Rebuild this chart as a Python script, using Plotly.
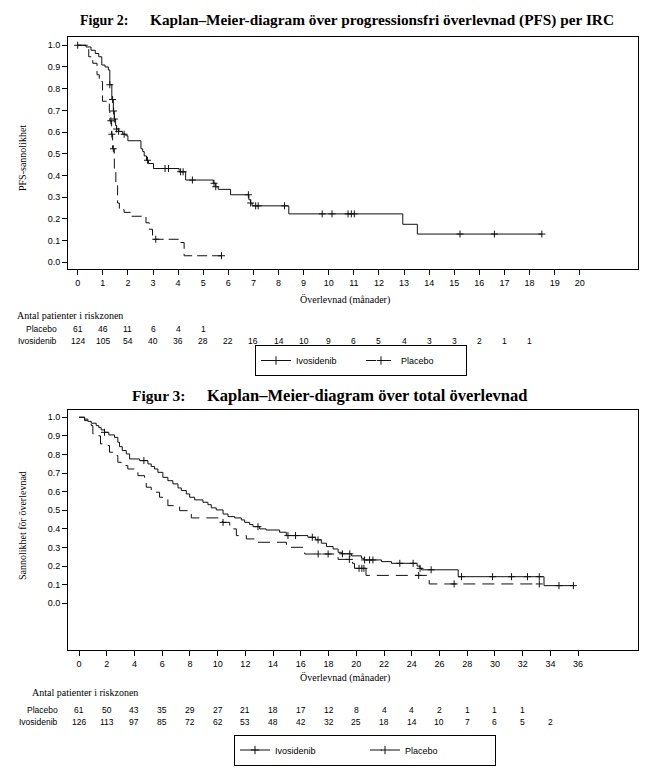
import plotly.graph_objects as go

# ---------------- DATA ----------------
# Figure 2: PFS per IRC (months, survival probability)
pfs_ivo_t = [0, 0.33, 0.53, 0.7, 0.84, 0.96, 1.09, 1.22, 1.28, 1.36, 1.42, 1.46, 1.51, 1.55, 1.63, 1.79,
             1.92, 2.0, 2.52, 2.59, 2.65, 2.74, 2.82, 3.02, 4.04, 4.3, 5.4, 5.5, 5.6, 6.09, 6.82, 6.89,
             6.95, 8.41, 12.95, 13.53, 18.49]
pfs_ivo_s = [1.0, 0.992, 0.977, 0.962, 0.947, 0.909, 0.9, 0.886, 0.818, 0.75, 0.697, 0.66, 0.63, 0.614,
             0.603, 0.59, 0.583, 0.56, 0.523, 0.51, 0.49, 0.47, 0.455, 0.432, 0.417, 0.379, 0.364, 0.348,
             0.336, 0.311, 0.288, 0.273, 0.26, 0.223, 0.175, 0.13, 0.13]
pfs_ivo_cens = [0, 1.28, 1.39, 1.43, 1.46, 1.55, 1.63, 1.85, 2.78, 3.48, 3.62, 4.1, 4.2, 4.57, 5.43, 5.5,
                6.8, 6.89, 7.09, 7.19, 8.24, 9.74, 10.13, 10.77, 10.9, 11.02, 15.23, 16.6, 18.49]

pfs_pla_t = [0, 0.44, 0.6, 0.77, 0.86, 0.99, 1.26, 1.28, 1.35, 1.39, 1.46, 1.52, 1.59, 1.66, 1.85, 2.12,
             2.72, 2.85, 2.98, 4.1, 4.24, 5.73]
pfs_pla_s = [1.0, 0.947, 0.917, 0.864, 0.833, 0.742, 0.697, 0.652, 0.59, 0.523, 0.424, 0.364, 0.273,
             0.242, 0.23, 0.212, 0.182, 0.152, 0.106, 0.091, 0.03, 0.03]
pfs_pla_cens = [1.32, 1.36, 1.42, 3.11, 5.73]

pfs_months = list(range(0, 21))
pfs_risk_placebo = [61, 46, 11, 6, 4, 1]
pfs_risk_ivo = [124, 105, 54, 40, 36, 28, 22, 16, 14, 10, 9, 6, 5, 4, 3, 3, 2, 1, 1]

# Figure 3: overall survival
os_ivo_t = [0, 0.4, 0.64, 0.88, 1.24, 1.43, 1.6, 1.84, 2.15, 2.56, 2.8, 2.92, 3.12, 3.41, 3.65, 4.37,
            4.97, 5.21, 5.45, 5.69, 6.05, 6.41, 6.77, 7.14, 7.38, 7.74, 7.98, 8.34, 8.94, 9.3, 9.54, 9.9,
            10.39, 10.75, 11.23, 11.71, 11.95, 12.31, 12.55, 13.03, 13.5, 14.47, 14.95, 16.51, 17.07,
            17.48, 17.85, 18.33, 18.69, 18.93, 19.65, 20.37, 20.55, 21.82, 22.54, 24.39, 24.6, 24.7,
            27.35, 33.54, 35.66]
os_ivo_s = [1.0, 0.99, 0.978, 0.968, 0.955, 0.944, 0.932, 0.919, 0.905, 0.892, 0.866, 0.842, 0.821,
            0.803, 0.776, 0.767, 0.749, 0.735, 0.722, 0.704, 0.677, 0.659, 0.642, 0.62, 0.606, 0.588,
            0.57, 0.556, 0.543, 0.53, 0.513, 0.502, 0.48, 0.466, 0.459, 0.448, 0.435, 0.423, 0.412, 0.4,
            0.394, 0.382, 0.364, 0.355, 0.341, 0.323, 0.305, 0.292, 0.274, 0.266, 0.255, 0.242, 0.233,
            0.224, 0.215, 0.2, 0.188, 0.18, 0.143, 0.095, 0.095]
os_ivo_cens = [1.84, 4.68, 12.91, 15.07, 15.62, 16.83, 17.24, 19.0, 19.53, 20.6, 20.96, 21.2, 23.14,
               24.1, 24.6, 25.4, 27.59, 29.83, 31.2, 32.35, 33.2, 34.62, 35.66]

os_pla_t = [0, 0.4, 0.71, 0.88, 1.0, 1.24, 1.55, 1.84, 2.2, 2.44, 2.8, 3.04, 3.52, 4.25, 4.73, 4.85,
            5.21, 5.81, 6.41, 7.26, 8.1, 10.34, 10.87, 11.35, 12.07, 12.79, 14.96, 16.28, 18.69, 19.72,
            19.87, 20.7, 25.26, 33.2]
os_pla_s = [1.0, 0.982, 0.968, 0.955, 0.91, 0.9, 0.857, 0.848, 0.812, 0.794, 0.758, 0.74, 0.722, 0.686,
            0.66, 0.624, 0.597, 0.57, 0.525, 0.498, 0.459, 0.435, 0.4, 0.364, 0.346, 0.328, 0.301, 0.265,
            0.236, 0.215, 0.188, 0.15, 0.104, 0.104]
os_pla_cens = [10.39, 17.25, 17.97, 19.5, 20.2, 20.4, 20.55, 24.5, 27.06, 33.2]

os_months = list(range(0, 37, 2))
os_risk_placebo = [61, 50, 43, 35, 29, 27, 21, 18, 17, 12, 8, 4, 4, 2, 1, 1, 1]
os_risk_ivo = [126, 113, 97, 85, 72, 62, 53, 48, 42, 32, 25, 18, 14, 10, 7, 6, 5, 2]

y_ticks = [i / 10 for i in range(11)]

# ---------------- HELPERS ----------------
W, H = 652, 774
SANS = "Liberation Sans, Arial, sans-serif"
SERIF = "Liberation Serif, Times New Roman, serif"


def px(x):
    return x / W


def py(y):
    return 1 - y / H


def step_at(ts, ss, t):
    v = ss[0]
    for ti, si in zip(ts, ss):
        if ti <= t:
            v = si
        else:
            break
    return v


fig = go.Figure()

LINE_COL = "#111111"
MARK = dict(symbol="cross-thin", size=5, line=dict(color=LINE_COL, width=1))


def add_km(t, s, cens, xa, ya, name, dash, legend):
    fig.add_trace(go.Scatter(x=t, y=s, mode="lines", line=dict(shape="hv", color=LINE_COL, width=1, dash=dash),
                             xaxis=xa, yaxis=ya, showlegend=False, hoverinfo="skip"))
    fig.add_trace(go.Scatter(x=cens, y=[step_at(t, s, c) for c in cens], mode="markers",
                             marker=MARK, xaxis=xa, yaxis=ya, showlegend=False, hoverinfo="skip"))
    # legend entry
    fig.add_trace(go.Scatter(x=[None], y=[None], mode="lines+markers", name=name,
                             line=dict(color=LINE_COL, width=1, dash=dash),
                             marker=dict(symbol="cross-thin", size=6, line=dict(color=LINE_COL, width=1)),
                             xaxis=xa, yaxis=ya, legend=legend, showlegend=True))


add_km(pfs_ivo_t, pfs_ivo_s, pfs_ivo_cens, "x", "y", "Ivosidenib", "solid", "legend")
add_km(pfs_pla_t, pfs_pla_s, pfs_pla_cens, "x", "y", "Placebo", "10px,5px", "legend")
add_km(os_ivo_t, os_ivo_s, os_ivo_cens, "x2", "y2", "Ivosidenib", "solid", "legend2")
add_km(os_pla_t, os_pla_s, os_pla_cens, "x2", "y2", "Placebo", "12px,7px", "legend2")

axis_common = dict(showline=True, mirror=True, linecolor="black", linewidth=1, ticks="outside",
                   ticklen=5, tickcolor="black", tickwidth=1, showgrid=False, zeroline=False,
                   tickfont=dict(family=SANS, size=9, color="black"), fixedrange=True)

fig.update_layout(
    width=W, height=H, margin=dict(l=0, r=0, t=0, b=0),
    paper_bgcolor="white", plot_bgcolor="white",
    xaxis=dict(domain=[px(68), px(638)], range=[-0.386, 22.32], tickvals=pfs_months, anchor="y", **axis_common),
    yaxis=dict(domain=[py(269), py(37)], range=[-0.031, 1.038], tickvals=y_ticks, tickformat=".1f", anchor="x",
               **axis_common),
    xaxis2=dict(domain=[px(68), px(638)], range=[-0.794, 40.32], tickvals=os_months, anchor="y2", **axis_common),
    yaxis2=dict(domain=[py(650), py(410)], range=[-0.251, 1.039], tickvals=y_ticks, tickformat=".1f", anchor="x2",
                **axis_common),
    legend=dict(x=px(361), y=py(360.5), xanchor="center", yanchor="middle", orientation="h",
                bordercolor="black", borderwidth=1, font=dict(family=SANS, size=9, color="black"),
                entrywidth=60, itemwidth=30, bgcolor="white"),
    legend2=dict(x=px(365), y=py(750), xanchor="center", yanchor="middle", orientation="h",
                 bordercolor="black", borderwidth=1, font=dict(family=SANS, size=9, color="black"),
                 entrywidth=85, itemwidth=30, bgcolor="white"),
)

ann = []


def text(x, y, s, size=10, family=SERIF, xanchor="left", bold=False, angle=0, xref="paper"):
    ann.append(dict(x=x, y=y, xref=xref, yref="paper", text=("<b>%s</b>" % s) if bold else s,
                    showarrow=False, xanchor=xanchor, yanchor="middle", textangle=angle,
                    font=dict(family=family, size=size, color="black")))


# Titles
text(px(78), py(20), "Figur 2:", size=14, bold=True)
text(px(148), py(20), "Kaplan–Meier-diagram över progressionsfri överlevnad (PFS) per IRC", size=15.3, bold=True)
text(px(130), py(395), "Figur 3:", size=15.5, bold=True)
text(px(205), py(395), "Kaplan–Meier-diagram över total överlevnad", size=16.5, bold=True)

# Axis titles
text(px(22), py(158), "PFS-sannolikhet", size=10, xanchor="center", angle=-90)
text(px(345), py(300), "Överlevnad (månader)", size=10, xanchor="center")
text(px(22), py(526), "Sannolikhet för överlevnad", size=10, xanchor="center", angle=-90)
text(px(345), py(678), "Överlevnad (månader)", size=10, xanchor="center")

# Risk tables
text(px(15), py(315), "Antal patienter i riskzonen", size=10)
text(px(59), py(329), "Placebo", size=8.5, family=SANS, xanchor="right")
text(px(59), py(341), "Ivosidenib", size=8.5, family=SANS, xanchor="right")
for m, v in zip(pfs_months, pfs_risk_placebo):
    text(m, py(329), str(v), size=8.5, family=SANS, xanchor="center", xref="x")
for m, v in zip(pfs_months, pfs_risk_ivo):
    text(m, py(341), str(v), size=8.5, family=SANS, xanchor="center", xref="x")

text(px(30), py(692), "Antal patienter i riskzonen", size=10)
text(px(60), py(710), "Placebo", size=8.5, family=SANS, xanchor="right")
text(px(60), py(722), "Ivosidenib", size=8.5, family=SANS, xanchor="right")
for m, v in zip(os_months, os_risk_placebo):
    text(m, py(710), str(v), size=8.5, family=SANS, xanchor="center", xref="x2")
for m, v in zip(os_months, os_risk_ivo):
    text(m, py(722), str(v), size=8.5, family=SANS, xanchor="center", xref="x2")

fig.update_layout(annotations=ann)

fig.write_html("out.html", config={"displayModeBar": False},
               post_script="document.body.style.margin='0';document.body.style.overflow='hidden';")
